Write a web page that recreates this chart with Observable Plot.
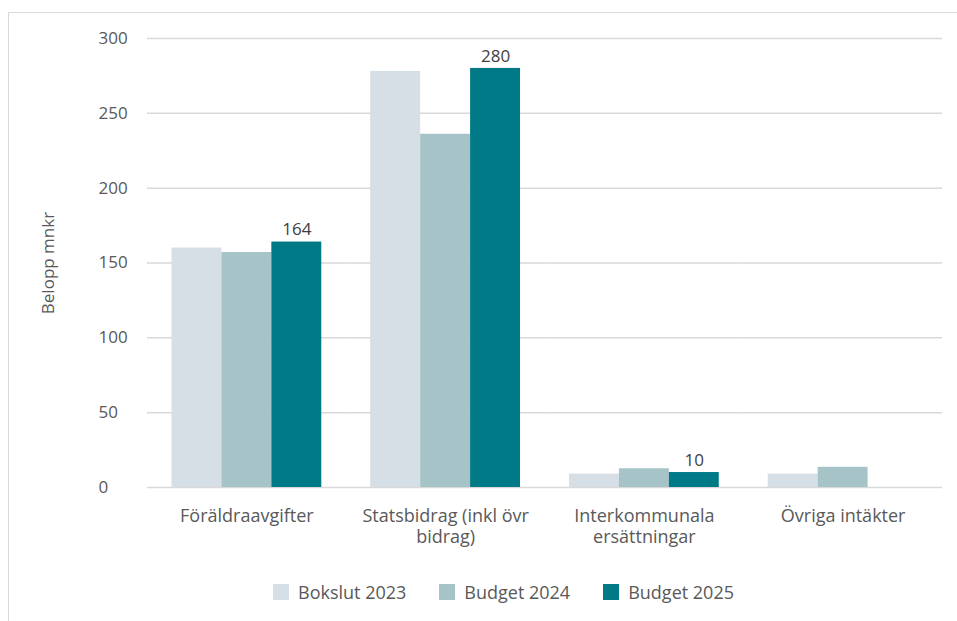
<!DOCTYPE html>
<html><head><meta charset="utf-8">
<script src="https://cdn.jsdelivr.net/npm/d3@7"></script>
<script src="https://cdn.jsdelivr.net/npm/@observablehq/plot@0.6"></script>
<style>
body{margin:0;background:#fff;font-family:"Open Sans",sans-serif;overflow:hidden;}
#frame{position:absolute;left:8px;top:12px;width:948px;height:620px;border-left:1px solid #d9d9d9;border-top:1px solid #d9d9d9;}
#legend{display:flex;align-items:center;margin-left:264px;padding-top:18px;font-size:18px;color:#595959;line-height:22px;}
#legend .item{display:flex;align-items:center;margin-right:33px;}
#legend .sw{width:16px;height:16px;margin-right:9px;}
</style>
</head><body>
<div id="frame"><div id="chart"></div><div id="legend"></div></div>
<script>
const categories = ["Föräldraavgifter", "Statsbidrag (inkl övr bidrag)", "Interkommunala ersättningar", "Övriga intäkter"];
const categoryLabels = ["Föräldraavgifter", "Statsbidrag (inkl övr\nbidrag)", "Interkommunala\nersättningar", "Övriga intäkter"];
const seriesNames = ["Bokslut 2023", "Budget 2024", "Budget 2025"];
const seriesColors = ["#d6dfe5", "#a6c3c8", "#007a87"];
const bokslut2023 = [160, 278, 9, 9];
const budget2024 = [157, 236, 12.5, 13.5];
const budget2025 = [164, 280, 10, null];
const yTicks = [0, 50, 100, 150, 200, 250, 300];

const values = [bokslut2023, budget2024, budget2025];
const rows = [];
categories.forEach((c, i) => {
  seriesNames.forEach((s, j) => {
    const v = values[j][i];
    if (v != null) rows.push({cat: c, series: s, value: v});
  });
});
const labelMap = new Map(categories.map((c, i) => [c, categoryLabels[i]]));

const chart = Plot.plot({
  width: 948, height: 550,
  marginLeft: 138, marginRight: 15, marginTop: 25, marginBottom: 76,
  style: {fontFamily: "Open Sans", fontSize: "17px", color: "#595959", background: "transparent"},
  fx: {domain: categories, padding: 0, label: null, round: false},
  x: {domain: seriesNames, paddingInner: 0, paddingOuter: 0.49, axis: null, round: false},
  y: {domain: [0, 300]},
  color: {domain: seriesNames, range: seriesColors},
  marks: [
    Plot.gridY(yTicks, {stroke: "#d9d9d9", strokeOpacity: 1, strokeWidth: 1.5}),
    Plot.axisY(yTicks, {tickSize: 0, tickPadding: 0, textAnchor: "start", dx: -49, fill: "#595959", fontSize: 17,
      label: "Belopp mnkr", labelAnchor: "center", labelArrow: "none", labelOffset: 106}),
    Plot.axisFx({anchor: "bottom", tickSize: 0, tickPadding: 19, lineHeight: 1.2, tickFormat: d => labelMap.get(d), label: null, fontSize: 18, fill: "#595959"}),
    Plot.barY(rows, {fx: "cat", x: "series", y: "value", fill: "series"}),
    Plot.text(rows.filter(d => d.series === "Budget 2025"), {fx: "cat", x: "series", y: "value", text: d => String(d.value), dy: -12, fill: "#404040", fontSize: 17})
  ]
});
document.getElementById("chart").appendChild(chart);

const legend = document.getElementById("legend");
seriesNames.forEach((s, i) => {
  const it = document.createElement("div");
  it.className = "item";
  const sw = document.createElement("div");
  sw.className = "sw";
  sw.style.background = seriesColors[i];
  const tx = document.createElement("span");
  tx.textContent = s;
  it.appendChild(sw); it.appendChild(tx);
  legend.appendChild(it);
});
</script>
</body></html>
